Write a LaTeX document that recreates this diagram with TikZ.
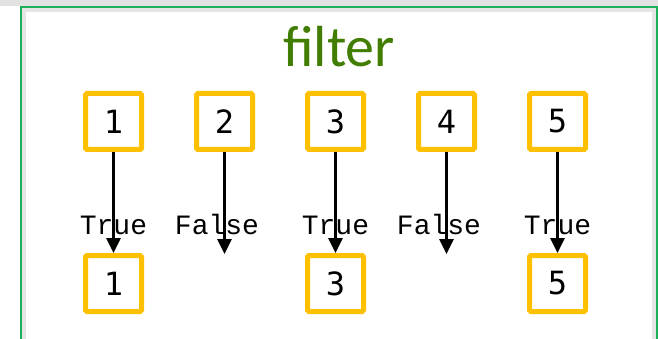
\documentclass[tikz,border=0pt]{standalone}
\usepackage{fontspec}
\setmainfont{Carlito}
\newfontfamily\numfont{DejaVu Sans Mono}
\newfontfamily\codefont{Liberation Mono}
\usetikzlibrary{arrows.meta}
\definecolor{framecol}{RGB}{28,176,88}
\definecolor{titlecol}{RGB}{64,125,0}
\definecolor{itemcol}{RGB}{255,192,0}
\definecolor{topcol}{RGB}{226,226,226}
\tikzset{
  item/.style={draw=itemcol,line width=5pt,rounded corners=1.5pt,minimum size=56pt,
    inner sep=0pt,font=\numfont\fontsize{32}{32}\selectfont,fill=white},
  flow/.style={-{Triangle[length=15pt,width=14pt]},line width=3pt,draw=black},
  verdict/.style={anchor=base,inner sep=0pt,font=\codefont\fontsize{28}{28}\selectfont}
}

\begin{document}
\begin{tikzpicture}[x=1pt,y=-1pt]
  \useasboundingbox (0,0) rectangle (658,339);
  \fill[white] (0,0) rectangle (658,339);
  \fill[topcol] (0,0) rectangle (658,6);

  % panel frame with its soft shadow
  \draw[black!10,line width=4pt] (24,345) -- (24,10) -- (654,10) -- (654,345);
  \draw[framecol,line width=2pt] (21,345) -- (21,7) -- (657,7) -- (657,345);

  % title
  \node[anchor=base,inner sep=0pt,text=titlecol,font=\fontsize{58}{58}\selectfont] (title) at (339,67) {filter};

  % input list
  \foreach \i/\x in {1/113.5,2/224.5,3/335.5,4/446.5,5/557.5}{
    \node[item] (t\i) at (\x,121.5) {\i};
  }
  % kept elements
  \foreach \i in {1,3,5}{
    \node[item] (b\i) at (t\i |- 0,283.5) {\i};
  }
  \coordinate (e2) at (t2 |- 0,254);
  \coordinate (e4) at (t4 |- 0,254);

  \foreach \i in {1,3,5}{\draw[flow] (t\i) -- (b\i.north);}
  \foreach \i in {2,4}{\draw[flow] (t\i) -- (e\i);}

  \foreach \i in {1,3,5}{\node[verdict] (v\i) at (t\i |- 0,234) {True};}
  \node[verdict] (v2) at (217,234) {False};
  \node[verdict] (v4) at (439,234) {False};
\end{tikzpicture}
\end{document}
